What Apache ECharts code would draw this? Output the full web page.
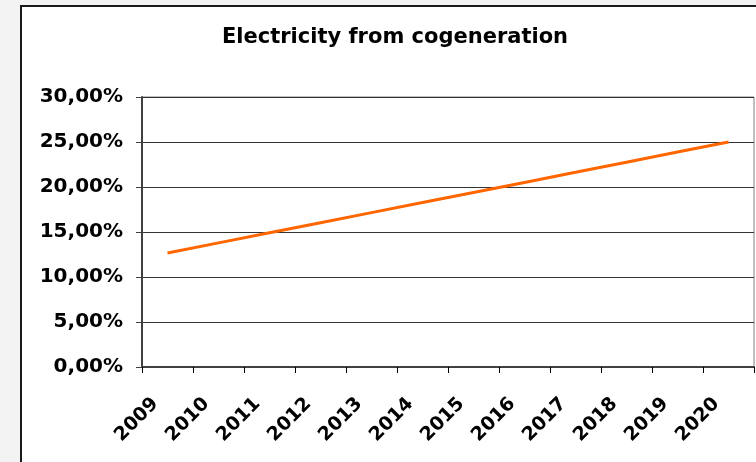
<!DOCTYPE html>
<html>
<head>
<meta charset="utf-8">
<script src="https://cdn.jsdelivr.net/npm/echarts@6/dist/echarts.min.js"></script>
<style>
  html, body { margin: 0; padding: 0; width: 756px; height: 462px; background: #f3f3f3; overflow: hidden; }
  #frame { position: absolute; left: 20px; top: 5px; width: 800px; height: 500px; background: #ffffff; border-left: 2px solid #1a1a1a; border-top: 2px solid #1a1a1a; }
  #chart { position: absolute; left: 0; top: 0; width: 756px; height: 462px; }
</style>
</head>
<body>
<div id="frame"></div>
<div id="chart"></div>
<script>
const titleText = 'Electricity from cogeneration';
const years = ['2009','2010','2011','2012','2013','2014','2015','2016','2017','2018','2019','2020'];
const shareValues = [12.67, 13.79, 14.91, 16.03, 17.15, 18.27, 19.39, 20.51, 21.63, 22.76, 23.88, 25.0];
const yTicks = [0, 5, 10, 15, 20, 25, 30];

const chart = echarts.init(document.getElementById('chart'), null, { renderer: 'canvas' });
const labelFont = { fontFamily: 'DejaVu Sans', fontWeight: 'bold', fontSize: 20, color: '#000' };

chart.setOption({
  backgroundColor: 'transparent',
  animation: false,
  graphic: [{
    type: 'text',
    x: 395, y: 38,
    style: {
      text: titleText,
      x: 0, y: 0,
      align: 'center', verticalAlign: 'middle',
      fontFamily: 'DejaVu Sans', fontWeight: 'bold', fontSize: 21, fill: '#000'
    }
  }],
  grid: { left: 142, right: 2, top: 97, bottom: 95, show: true, borderColor: '#808080', borderWidth: 1, backgroundColor: '#fff' },
  xAxis: {
    type: 'category',
    data: years,
    boundaryGap: true,
    axisLine: { lineStyle: { color: '#404040', width: 2 } },
    axisTick: { show: true, length: 6, lineStyle: { color: '#000', width: 1 }, alignWithLabel: false },
    axisLabel: Object.assign({ rotate: 45, margin: 22, interval: 0, padding: [0, 17, 0, 0] }, labelFont, { fontSize: 19 }),
    splitLine: { show: false }
  },
  yAxis: {
    type: 'value',
    min: yTicks[0], max: yTicks[yTicks.length - 1], interval: 5,
    axisLine: { show: true, lineStyle: { color: '#404040', width: 2 } },
    axisTick: { show: true, length: 6, lineStyle: { color: '#404040', width: 1 } },
    axisLabel: Object.assign({ margin: 19, formatter: v => v.toFixed(2).replace('.', ',') + '%' }, labelFont),
    splitLine: { show: true, lineStyle: { color: '#333', width: 1 } }
  },
  series: [{
    type: 'line',
    data: shareValues,
    showSymbol: false,
    symbol: 'none',
    lineStyle: { color: '#ff6600', width: 3 },
    itemStyle: { color: '#ff6600' }
  }]
});
</script>
</body>
</html>
